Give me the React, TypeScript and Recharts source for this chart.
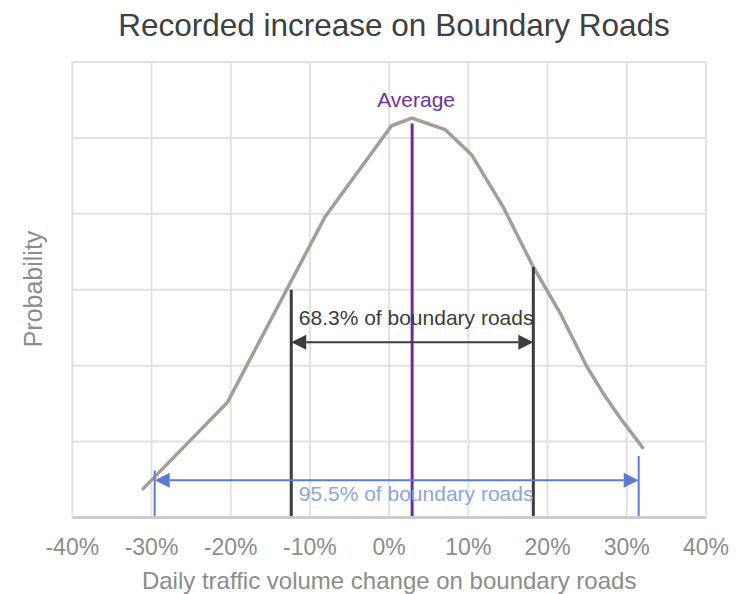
import { LineChart, Line, XAxis, YAxis, CartesianGrid, ReferenceLine, ReferenceDot } from 'recharts'

// curve: % change vs. relative probability
const changePct = [-31.05, -20.4, -8.1, 0.3, 2.85, 7.05, 10.4, 14.4, 18.2, 21.6, 25.0, 27.0, 29.1, 32.0]
const probability = [0.38, 1.52, 3.96, 5.16, 5.26, 5.11, 4.78, 4.09, 3.3, 2.69, 1.98, 1.64, 1.32, 0.92]

const xTicks = [-40, -30, -20, -10, 0, 10, 20, 30, 40]
const yTicks = [0, 1, 2, 3, 4, 5, 6]

const average = 2.9
const averageTop = 5.19
const oneSigma = [-12.36, 18.2]
const oneSigmaTops = [3.0, 3.3]
const oneSigmaArrowAt = 2.31
const twoSigma = [-29.6, 31.5]
const twoSigmaTops = [0.62, 0.81]
const twoSigmaArrowAt = 0.49

const labelAverageAt = 5.41
const labelOneSigmaAt = 2.536
const labelTwoSigmaAt = 0.217

const font = '"Liberation Sans", Arial, sans-serif'

const data = changePct.map((x, i) => ({ x, y: probability[i] }))

const arrowShape = (color: string, head: number) => (p: any) => {
  const l = Math.min(p.x1, p.x2)
  const r = Math.max(p.x1, p.x2)
  const y = p.y1
  return (
    <g>
      <line x1={l + head} y1={y} x2={r - head} y2={y} stroke={color} strokeWidth={2} />
      <polygon points={`${l},${y} ${l + head},${y - head / 2} ${l + head},${y + head / 2}`} fill={color} />
      <polygon points={`${r},${y} ${r - head},${y - head / 2} ${r - head},${y + head / 2}`} fill={color} />
    </g>
  )
}

const textShape = (text: string, color: string) => (p: any) => (
  <text x={p.cx + 4} y={p.cy} textAnchor="middle" fill={color} fontSize={21} fontFamily={font}>
    {text}
  </text>
)

// y axis has no labels, only grid lines
const noTick = () => <g />

export default function App() {
  return (
    <div style={{ position: 'absolute', left: 0, top: 0, width: 740, height: 594, background: '#fff' }}>
      <LineChart width={740} height={594} data={data} margin={{ top: 62, right: 34, bottom: 0, left: 0 }}>
        <CartesianGrid stroke="#e2e2e2" strokeWidth={2} />
        <XAxis
          type="number"
          dataKey="x"
          domain={[-40, 40]}
          ticks={xTicks}
          interval={0}
          tickFormatter={(v: number) => `${v}%`}
          axisLine={{ stroke: '#cccccc', strokeWidth: 3 }}
          tickLine={false}
          tickSize={6}
          tickMargin={15}
          tick={{ fill: '#8c8c8c', fontSize: 23, fontFamily: font }}
          height={76.5}
          label={{
            value: 'Daily traffic volume change on boundary roads',
            position: 'insideBottom',
            offset: 5,
            fill: '#8c8c8c',
            fontSize: 24,
            fontFamily: font,
          }}
        />
        <YAxis
          type="number"
          domain={[0, 6]}
          ticks={yTicks}
          interval={0}
          width={72.3}
          tick={noTick}
          axisLine={false}
          tickLine={false}
        />
        <Line
          type="linear"
          dataKey="y"
          stroke="#a59e97"
          strokeWidth={3.5}
          strokeLinecap="round"
          dot={false}
          isAnimationActive={false}
        />
        <ReferenceLine segment={[{ x: average, y: 0 }, { x: average, y: averageTop }]} stroke="#6a2ca0" strokeWidth={3} />
        {oneSigma.map((v, i) => (
          <ReferenceLine key={'s1' + i} segment={[{ x: v, y: 0 }, { x: v, y: oneSigmaTops[i] }]} stroke="#3c3c3c" strokeWidth={3} />
        ))}
        {twoSigma.map((v, i) => (
          <ReferenceLine key={'s2' + i} segment={[{ x: v, y: 0 }, { x: v, y: twoSigmaTops[i] }]} stroke="#5b7bd6" strokeWidth={2} />
        ))}
        <ReferenceLine
          segment={[{ x: oneSigma[0], y: oneSigmaArrowAt }, { x: oneSigma[1], y: oneSigmaArrowAt }]}
          shape={arrowShape('#3c3c3c', 15)}
        />
        <ReferenceLine
          segment={[{ x: twoSigma[0], y: twoSigmaArrowAt }, { x: twoSigma[1], y: twoSigmaArrowAt }]}
          shape={arrowShape('#5b7bd6', 15)}
        />
        <ReferenceDot x={average} y={labelAverageAt} r={0} shape={textShape('Average', '#7030a0')} />
        <ReferenceDot x={average} y={labelOneSigmaAt} r={0} shape={textShape('68.3% of boundary roads', '#3c3c3c')} />
        <ReferenceDot x={average} y={labelTwoSigmaAt} r={0} shape={textShape('95.5% of boundary roads', '#8ea4e2')} />
      </LineChart>
      <svg width={740} height={594} style={{ position: 'absolute', left: 0, top: 0, pointerEvents: 'none' }}>
        <text x={394} y={36} textAnchor="middle" fill="#404040" fontSize={31.5} fontFamily={font}>
          Recorded increase on Boundary Roads
        </text>
        <text transform="translate(42,289) rotate(-90)" textAnchor="middle" fill="#8c8c8c" fontSize={25} fontFamily={font}>
          Probability
        </text>
      </svg>
    </div>
  )
}
